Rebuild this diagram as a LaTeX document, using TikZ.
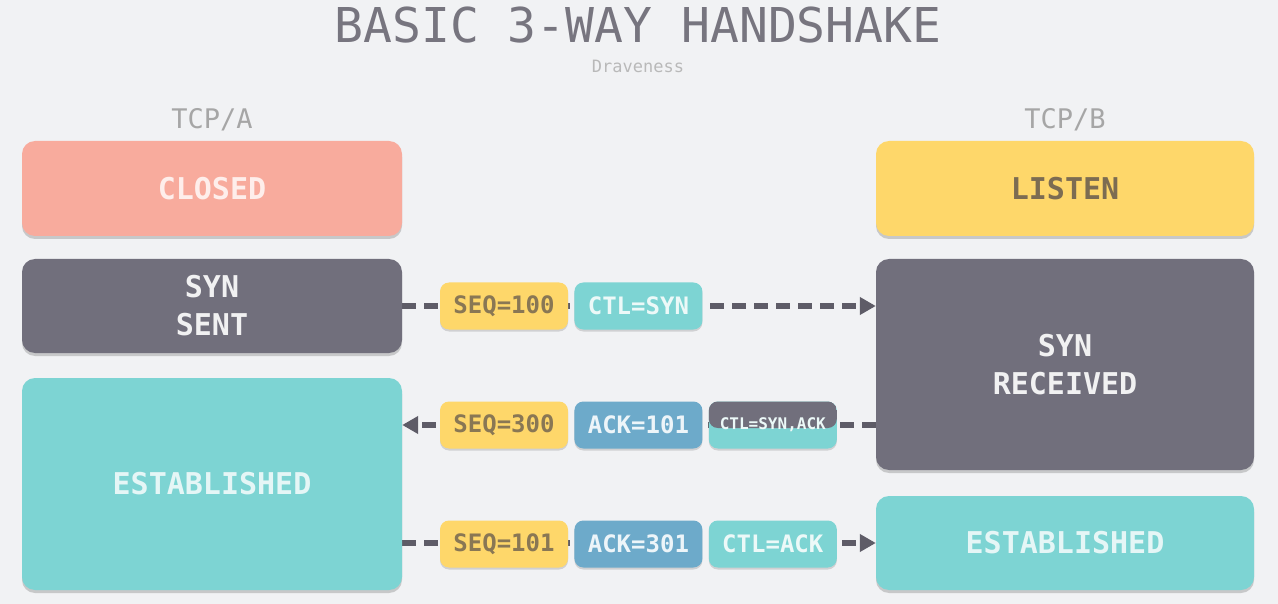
\documentclass[tikz,border=0pt]{standalone}
\usepackage{fontspec}
\setmainfont{DejaVu Sans Mono}
\usepackage{tikz}
\usetikzlibrary{arrows.meta,positioning,calc,shadows}
\definecolor{bgpaper}{HTML}{F1F2F4}
\definecolor{stClosed}{HTML}{F8AB9D}
\definecolor{stListen}{HTML}{FED76A}
\definecolor{stDark}{HTML}{716F7C}
\definecolor{stTeal}{HTML}{7DD4D3}
\definecolor{pkBlue}{HTML}{6DAACA}
\definecolor{wire}{HTML}{5E5C67}
\definecolor{titleGray}{HTML}{77757F}
\definecolor{onYellow}{HTML}{7C6C52}
\pgfdeclarelayer{paper}
\pgfdeclarelayer{wires}
\pgfsetlayers{paper,wires,main}

\begin{document}
\begin{tikzpicture}[x=1pt, y=-1pt,
    state/.style={rounded corners=13pt, minimum width=380pt, align=center,
      font=\fontsize{30}{38}\selectfont\bfseries,
      drop shadow={shadow xshift=0pt, shadow yshift=-3pt, opacity=.25, fill=black!70}},
    pkt/.style={rounded corners=9pt, minimum width=128pt, minimum height=47pt,
      font=\fontsize{24}{28}\selectfont\bfseries,
      drop shadow={shadow xshift=0pt, shadow yshift=-2pt, opacity=.2, fill=black!70}},
    seq/.style={pkt, fill=stListen, text=onYellow!90!stListen},
    ack/.style={pkt, fill=pkBlue, text=white!88!pkBlue},
    ctl/.style={pkt, fill=stTeal, text=white!85!stTeal},
    flow/.style={wire, line width=6pt, dash pattern=on 14pt off 8pt,
      -{Triangle[length=16pt,width=17pt]}}]
  \useasboundingbox (0,0) rectangle (1278,604);
  \begin{pgfonlayer}{paper}
    \fill[bgpaper] (0,0) rectangle (1278,604);
  \end{pgfonlayer}

  % heading
  \node[titleGray, font=\fontsize{48}{52}\selectfont] (title) at (638,25) {BASIC 3-WAY HANDSHAKE};
  \node[gray!55, font=\fontsize{17}{20}\selectfont] (author) at (638,66) {Draveness};
  \node[gray!70, font=\fontsize{27}{30}\selectfont] (hostA) at (212,120) {TCP/A};
  \node[gray!70, font=\fontsize{27}{30}\selectfont] (hostB) at (1065,120) {TCP/B};

  % TCP/A states
  \node[state, fill=stClosed, text=white!80!stClosed, minimum height=95pt] (closed) at (212,188.5) {CLOSED};
  \node[state, fill=stDark, text=white!90!stDark, minimum height=94pt] (synsent) at (212,306) {SYN\\SENT};
  \node[state, fill=stTeal, text=white!80!stTeal, minimum height=212pt] (estA) at (212,484) {ESTABLISHED};

  % TCP/B states
  \node[state, fill=stListen, text=onYellow, minimum width=378pt, minimum height=95pt] (listen) at (1065,188.5) {LISTEN};
  \node[state, fill=stDark, text=white!90!stDark, minimum width=378pt, minimum height=211pt] (synrecv) at (1065,364.5) {SYN\\RECEIVED};
  \node[state, fill=stTeal, text=white!80!stTeal, minimum width=378pt, minimum height=94pt] (estB) at (1065,543) {ESTABLISHED};

  % segment 1
  \node[seq] (seq1) at (504,306) {SEQ=100};
  \node[ctl, right=6pt of seq1] (ctl1) {CTL=SYN};

  % segment 2
  \node[seq] (seq2) at (504,425) {SEQ=300};
  \node[ack, right=6pt of seq2] (ack2) {ACK=101};
  \node[ctl, right=6pt of ack2, font=\fontsize{16}{18}\selectfont\bfseries,
    path picture={\fill[stDark] (path picture bounding box.north west)
      rectangle ([yshift=-3pt]path picture bounding box.east);}] (ctl2) {CTL=SYN,ACK};

  % segment 3
  \node[seq] (seq3) at (504,544) {SEQ=101};
  \node[ack, right=6pt of seq3] (ack3) {ACK=301};
  \node[ctl, right=6pt of ack3] (ctl3) {CTL=ACK};

  % dashed flows behind the segments
  \begin{pgfonlayer}{wires}
    \draw[flow] (synsent.east) -- (synrecv.west |- synsent.east);
    \draw[flow] (synrecv.west |- seq2.center) -- (estA.east |- seq2.center);
    \draw[flow] (estA.east |- estB.west) -- (estB.west);
  \end{pgfonlayer}
\end{tikzpicture}
\end{document}
